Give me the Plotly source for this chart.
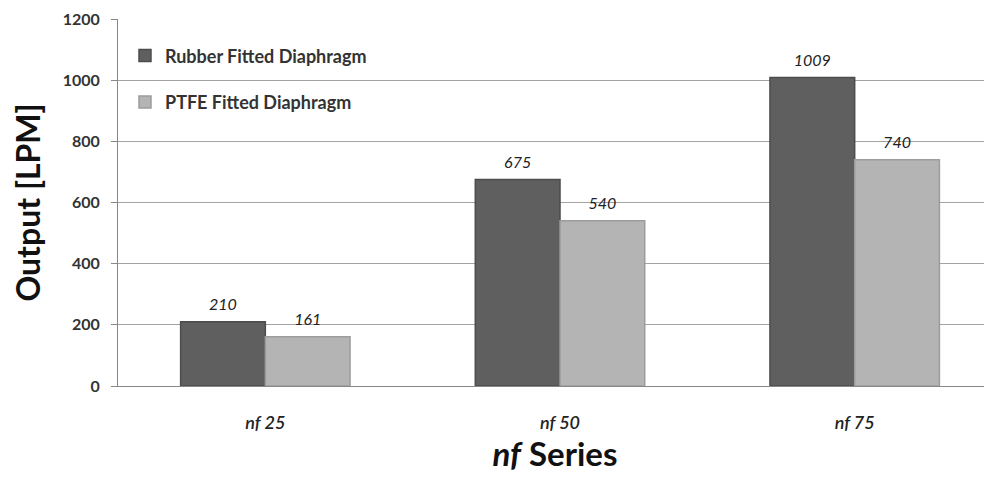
import plotly.graph_objects as go

categories = ["<i>nf 25</i>", "<i>nf 50</i>", "<i>nf 75</i>"]
rubber = [210, 675, 1009]
ptfe = [161, 540, 740]
series_names = ["Rubber Fitted Diaphragm", "PTFE Fitted Diaphragm"]

FONT = "Lato, 'Open Sans', sans-serif"
LABEL_TMPL = "<span style='font-size:16px'><i>%{text}</i></span><br> "

fig = go.Figure()
fig.add_trace(go.Bar(
    x=categories, y=rubber, name=series_names[0], legendgroup="a",
    marker=dict(color="#5f5f5f", line=dict(color="#4c4c4c", width=1.5)),
    text=[str(v) for v in rubber], textposition="outside",
    texttemplate=LABEL_TMPL,
    textfont=dict(family=FONT, size=6, color="#222"),
    cliponaxis=False,
))
fig.add_trace(go.Bar(
    x=categories, y=ptfe, name=series_names[1], legendgroup="b",
    marker=dict(color="#b4b4b4", line=dict(color="#9c9c9c", width=1.5)),
    text=[str(v) for v in ptfe], textposition="outside",
    texttemplate=LABEL_TMPL,
    textfont=dict(family=FONT, size=6, color="#222"),
    cliponaxis=False,
))

fig.update_layout(
    width=984, height=473,
    margin=dict(l=110, r=0, t=11, b=95),
    paper_bgcolor="white", plot_bgcolor="white",
    barmode="group", bargap=0.425, bargroupgap=0,
    font=dict(family=FONT, color="#333"),
    showlegend=True,
    legend=dict(
        x=0.008, y=0.95, xanchor="left", yanchor="top",
        bgcolor="rgba(0,0,0,0)",
        font=dict(family=FONT, size=18, color="#333", weight="bold"),
        traceorder="grouped", tracegroupgap=20, itemwidth=30,
    ),
    xaxis=dict(
        range=[-0.5, 2.466],
        showline=True, linecolor="#888", linewidth=1,
        ticks="", showgrid=False,
        tickfont=dict(family=FONT, size=18, color="#222", weight=600),
        ticklabelstandoff=20,
        title=dict(text="<i>nf</i> Series", font=dict(family=FONT, size=33, color="#111", weight="bold"), standoff=6),
    ),
    yaxis=dict(
        range=[0, 1200], tickvals=[0, 200, 400, 600, 800, 1000, 1200],
        showgrid=True, gridcolor="#a3a3a3", gridwidth=1,
        showline=True, linecolor="#888", linewidth=1,
        ticks="outside", ticklen=6, tickcolor="#888",
        tickfont=dict(family=FONT, size=16, color="#333", weight="bold"),
        ticklabelstandoff=8,
        zeroline=False,
        title=dict(text="Output [LPM]", font=dict(family=FONT, size=32, color="#111", weight="bold"), standoff=16),
    ),
)

fig.write_html("out.html")
